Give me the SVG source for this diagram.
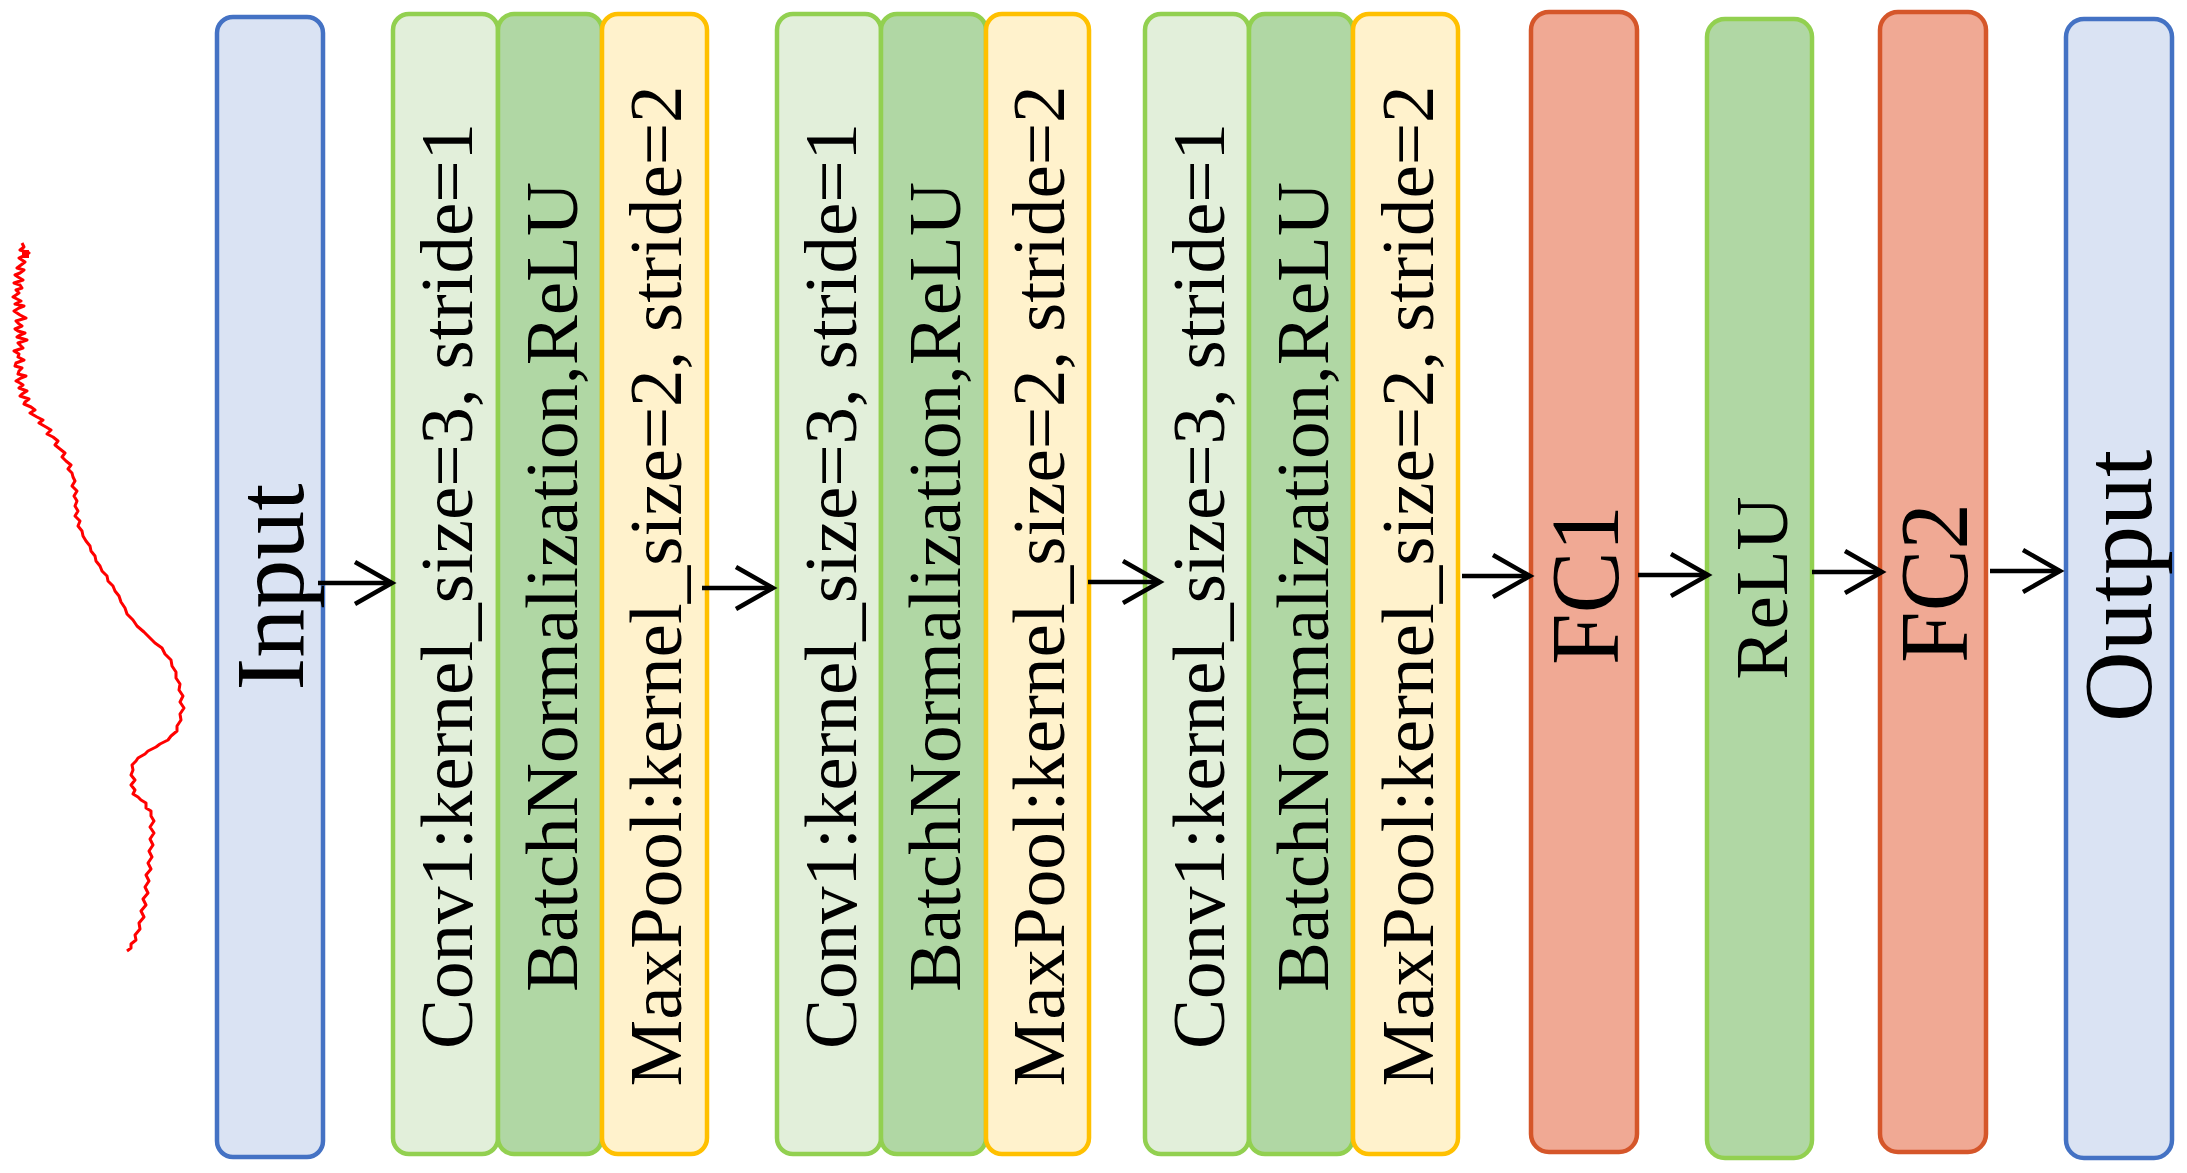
<svg xmlns="http://www.w3.org/2000/svg" width="2187" height="1173" viewBox="0 0 2187 1173">
<defs>
<marker id="arr" markerUnits="userSpaceOnUse" markerWidth="50" markerHeight="50" refX="40" refY="25" orient="auto" viewBox="0 0 50 50">
<path d="M3,4 L40,25 L3,46" fill="none" stroke="#000" stroke-width="4.5"/>
</marker>
<style>
.box{stroke-width:4.5}
.io{fill:#dae3f3;stroke:#4472c4}
.conv{fill:#e2efda;stroke:#92d050}
.bn{fill:#b0d7a4;stroke:#92d050}
.mp{fill:#fff2cc;stroke:#ffc000}
.fc{fill:#f0a994;stroke:#d5562a}
.t{font-family:"Liberation Serif","Times New Roman",serif;fill:#000;text-anchor:middle}
.s75{font-size:75px}
.s98{font-size:98px}
.conn line{stroke:#000;stroke-width:4.5;marker-end:url(#arr)}
</style>
</defs>
<rect width="2187" height="1173" fill="#fff"/>

<g id="signal">
<path fill="none" stroke="#ff0000" stroke-width="3" stroke-linejoin="round" d="M22,243 L24,247 L20,250 L29,253 L23,256 L19,258 L25,262 L21,265 L17,268 L24,270 L20,273 L15,275 L18,277 L23,280 L14,283 L20,285 L22,288 L16,290 L19,293 L13,297 L17,299 L21,301 L15,304 L24,306 L19,308 L14,311 L17,313 L20,315 L26,318 L16,321 L19,324 L22,326 L15,329 L18,331 L25,333 L20,335 L17,337 L27,340 L18,343 L21,346 L23,348 L14,351 L19,354 L18,357 L24,360 L16,363 L15,366 L22,368 L19,371 L18,374 L26,376 L21,378 L16,381 L20,383 L23,385 L19,388 L27,391 L22,394 L20,396 L29,399 L25,402 L24,404 L31,407 L35,410 L30,413 L37,417 L43,420 L39,423 L46,427 L51,430 L47,434 L53,437 L58,441 L55,445 L60,449 L65,453 L62,457 L66,461 L71,465 L68,469 L72,473 L73,477 L75,481 L72,486 L77,491 L74,496 L77,501 L75,506 L78,511 L75,516 L80,521 L78,526 L82,531 L83,536 L86,541 L90,546 L91,551 L95,556 L96,561 L100,566 L102,571 L107,576 L108,581 L113,586 L115,591 L119,596 L121,602 L125,608 L127,614 L133,620 L137,626 L144,632 L150,638 L155,643 L162,648 L165,654 L171,660 L172,666 L176,672 L176,678 L180,684 L179,690 L183,696 L180,702 L184,708 L180,714 L181,720 L177,726 L177,731 L171,736 L168,740 L160,744 L156,747 L148,751 L145,754 L138,758 L136,761 L132,765 L133,770 L131,775 L135,780 L131,785 L135,790 L133,794 L138,797 L141,800 L146,803 L146,808 L151,811 L151,816 L154,821 L150,827 L154,833 L150,839 L153,845 L149,851 L152,857 L148,863 L151,869 L146,875 L149,881 L145,887 L148,893 L143,899 L146,905 L141,911 L144,917 L139,923 L140,929 L135,935 L136,940 L131,944 L131,948 L127,951"/>
<rect x="22" y="250" width="7" height="8" fill="#ff0000"/>
</g>

<g id="input">
<rect class="box io" x="217" y="17" width="106" height="1140" rx="16"/>
<text class="t s98" transform="translate(303,587) rotate(-90)">Input</text>
</g>

<g id="conv1">
<rect class="box conv" x="393" y="14" width="105" height="1140" rx="16"/>
<text class="t s75" transform="translate(472,586) rotate(-90)">Conv1:kernel_size=3, stride=1</text>
</g>
<g id="bn1">
<rect class="box bn" x="498" y="14" width="104" height="1140" rx="16"/>
<text class="t s75" transform="translate(577,587) rotate(-90)">BatchNormalization,ReLU</text>
</g>
<g id="mp1">
<rect class="box mp" x="602" y="14" width="105" height="1140" rx="16"/>
<text class="t s75" transform="translate(681,586) rotate(-90)">MaxPool:kernel_size=2, stride=2</text>
</g>

<g id="conv2">
<rect class="box conv" x="777" y="14" width="104" height="1140" rx="16"/>
<text class="t s75" transform="translate(856,586) rotate(-90)">Conv1:kernel_size=3, stride=1</text>
</g>
<g id="bn2">
<rect class="box bn" x="881" y="14" width="105" height="1140" rx="16"/>
<text class="t s75" transform="translate(960,587) rotate(-90)">BatchNormalization,ReLU</text>
</g>
<g id="mp2">
<rect class="box mp" x="986" y="14" width="103" height="1140" rx="16"/>
<text class="t s75" transform="translate(1064,586) rotate(-90)">MaxPool:kernel_size=2, stride=2</text>
</g>

<g id="conv3">
<rect class="box conv" x="1145" y="14" width="104" height="1140" rx="16"/>
<text class="t s75" transform="translate(1224,586) rotate(-90)">Conv1:kernel_size=3, stride=1</text>
</g>
<g id="bn3">
<rect class="box bn" x="1249" y="14" width="104" height="1140" rx="16"/>
<text class="t s75" transform="translate(1328,587) rotate(-90)">BatchNormalization,ReLU</text>
</g>
<g id="mp3">
<rect class="box mp" x="1353" y="14" width="105" height="1140" rx="16"/>
<text class="t s75" transform="translate(1433,586) rotate(-90)">MaxPool:kernel_size=2, stride=2</text>
</g>

<g id="fc1">
<rect class="box fc" x="1531" y="12" width="106" height="1140" rx="18"/>
<text class="t s98" textLength="160" lengthAdjust="spacingAndGlyphs" transform="translate(1618,585) rotate(-90)">FC1</text>
</g>
<g id="relu">
<rect class="box bn" x="1707" y="19" width="105" height="1139" rx="18"/>
<text class="t s75" transform="translate(1787,588) rotate(-90)">ReLU</text>
</g>
<g id="fc2">
<rect class="box fc" x="1880" y="12" width="106" height="1140" rx="18"/>
<text class="t s98" textLength="160" lengthAdjust="spacingAndGlyphs" transform="translate(1967,583) rotate(-90)">FC2</text>
</g>
<g id="output">
<rect class="box io" x="2066" y="19" width="106" height="1139" rx="18"/>
<text class="t s98" transform="translate(2151,586) rotate(-90)">Output</text>
</g>

<g id="connectors" class="conn">
<line x1="318" y1="583" x2="392" y2="583"/>
<line x1="702" y1="588" x2="773" y2="588"/>
<line x1="1088" y1="582" x2="1160" y2="582"/>
<line x1="1462" y1="576" x2="1530" y2="576"/>
<line x1="1638" y1="575" x2="1708" y2="575"/>
<line x1="1812" y1="572" x2="1882" y2="572"/>
<line x1="1990" y1="571" x2="2060" y2="571"/>
</g>
</svg>
